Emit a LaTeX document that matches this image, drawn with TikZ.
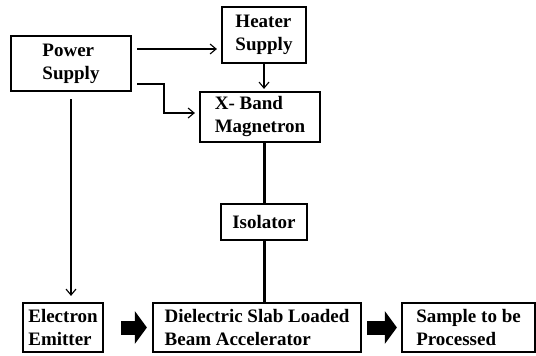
\documentclass[tikz,border=0pt]{standalone}
\usepackage{fontspec}
\setmainfont{Liberation Serif}
\usetikzlibrary{arrows.meta}

\begin{document}
\begin{tikzpicture}[x=1pt,y=-1pt,
    blk/.style={draw,line width=2.2pt,align=left,inner sep=2pt,
      font=\bfseries\fontsize{19}{23}\selectfont},
    feed/.style={-{Straight Barb[length=6pt,width=10pt]},line width=1.1pt},
    guide/.style={line width=3pt},
    bigarrow/.style={-{Triangle[length=12pt,width=32pt]},line width=14pt}]

  \useasboundingbox (0,0) rectangle (536,356);

    \node[blk,minimum width=120pt,minimum height=55pt] (ps)  at (71,63.5)   {Power\\Supply};
    \node[blk,minimum width=84pt,minimum height=56pt]  (hs)  at (264,35)    {Heater\\Supply};
    \node[blk,minimum width=120pt,minimum height=50pt] (mg)  at (260,117)   {X- Band\\Magnetron};
    \node[blk,minimum width=86pt,minimum height=36pt]  (iso) at (264,222)   {Isolator};
    \node[blk,minimum width=80pt,minimum height=49pt]  (ee)  at (63,327.5)  {Electron\\Emitter};
    \node[blk,minimum width=208pt,minimum height=49pt] (dsl) at (257,327.5) {Dielectric Slab Loaded\\Beam Accelerator};
    \node[blk,minimum width=133pt,minimum height=49pt] (sp)  at (468.5,327.5) {Sample to be\\Processed};

    \coordinate (ps1)  at (137,49);
    \coordinate (ps2)  at (137,84);
    \coordinate (bend) at (164,113);

    \draw[feed,shorten >=4pt] (ps1) -- (ps1 -| hs.west);
    \draw[feed,shorten >=4pt] (ps2) -- (ps2 -| bend) -- (bend) -- (bend -| mg.west);
    \draw[feed,shorten >=2pt] (hs.south) -- (hs.south |- mg.north);
    \draw[feed,shorten <=7pt,shorten >=6pt] (ps.south) -- (ps.south |- ee.north);

    \draw[guide] (iso.north |- mg.south) -- (iso.north);
    \draw[guide] (iso.south) -- (iso.south |- dsl.north);

    \draw[bigarrow,shorten <=17pt,shorten >=5pt] (ee.east) -- (dsl.west);
    \draw[bigarrow,shorten <=5pt,shorten >=4pt] (dsl.east) -- (sp.west);
  \end{tikzpicture}
\end{document}
